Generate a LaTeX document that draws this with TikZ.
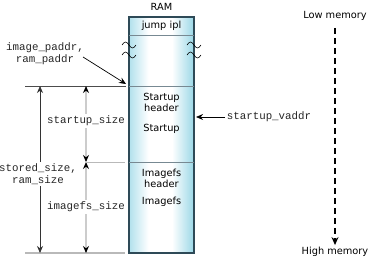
\documentclass[tikz,border=0pt]{standalone}
\usepackage{fontspec}
\setmainfont{DejaVu Sans}
\setmonofont{Liberation Mono}
\usetikzlibrary{arrows.meta,positioning,calc}
\definecolor{ramedge}{HTML}{2E4A57}
\definecolor{ramfill}{HTML}{8FD3E4}
\pgfdeclarehorizontalshading{ramshade}{100bp}{color(0bp)=(ramfill!70); color(25bp)=(ramfill!70); color(40bp)=(white); color(58bp)=(white); color(75bp)=(ramfill!90); color(100bp)=(ramfill!90)}

\begin{document}
\begin{tikzpicture}[x=1pt, y=-1pt,
  lbl/.style={font=\fontsize{9.8}{11}\selectfont, align=center, inner sep=1pt},
  code/.style={font=\ttfamily\fontsize{10.8}{12.5}\selectfont, align=center, inner sep=1.5pt, fill=white, text=black!85},
  ramblock/.style={rectangle, draw=ramedge, line width=1.1pt, shading=ramshade, minimum width=65, minimum height=236, inner sep=0pt},
  sep/.style={draw=ramedge!65, line width=0.6pt},
  brk/.style={black, line width=0.6pt},
  ptr/.style={-{Stealth[length=7pt,width=6pt]}, line width=0.7pt},
  dimblack/.style={{Stealth[length=7pt,width=6pt]}-{Stealth[length=7pt,width=6pt]}, line width=0.8pt, black!80},
  dimgray/.style={{Stealth[black,length=7pt,width=6pt]}-{Stealth[black,length=7pt,width=6pt]}, line width=1.6pt, gray!40},
  memarr/.style={-{Stealth[length=8pt,width=7pt]}, line width=2.2pt, dash pattern=on 6pt off 4pt}
]
  \useasboundingbox (0,0) rectangle (371,258);

  % RAM block
  \node[lbl] (title) at (161.5,7) {RAM};
  \node[ramblock] (ram) at (161.5,135) {};
  \draw[sep] (129,35) -- (194,35);
  \draw[sep] (129,86) -- (194,86);
  \draw[sep] (129,162) -- (194,162);
  \node[lbl] (jump) at (161.5,26) {jump ipl};
  \node[lbl] (suhdr) at (161.5,102.5) {Startup\\header};
  \node[lbl] (su) at (161.5,129) {Startup};
  \node[lbl] (ifhdr) at (161.5,178) {Imagefs\\header};
  \node[lbl] (ifs) at (161.5,202) {Imagefs};

  % break marks
  \foreach \bx in {122,187} {
    \foreach \by in {45,55} {
      \draw[brk] (\bx,\by) sin (\bx+3.5,\by-3) cos (\bx+7,\by) sin (\bx+10.5,\by+3) cos (\bx+14,\by);
    }
  }

  % guide lines
  \coordinate (g1l) at (25,86);  \coordinate (g1r) at (126,86);
  \coordinate (g2l) at (87,162); \coordinate (g2r) at (125,162);
  \coordinate (g3l) at (25,253); \coordinate (g3r) at (125,253);
  \draw[black!70, line width=0.7pt] (g1l) -- (g1r);
  \draw[gray!55, line width=1pt] (g2l) -- (g2r);
  \draw[gray!55, line width=1.8pt] (g3l) -- (g3r);

  % sizes
  \coordinate (stT) at (40,86);  \coordinate (stB) at (40,253);
  \coordinate (suT) at (86,86);  \coordinate (suB) at (86,162);
  \coordinate (ifT) at (86,162); \coordinate (ifB) at (86,253);
  \draw[dimblack] (stT) -- (stB);
  \draw[dimgray] (suT) -- (suB);
  \draw[dimgray] (ifT) -- (ifB);
  \node[code] (stored) at (38,174) {stored\_size,\\ram\_size};
  \node[code] (susize) at (86,121) {startup\_size};
  \node[code] (ifsize) at (86,207) {imagefs\_size};

  % addresses
  \node[code, fill=none] (paddr) at (45,53.5) {image\_paddr,\\ram\_paddr};
  \coordinate (paddrfoot) at (83,57);
  \coordinate (paddrtip) at (126,84);
  \draw[ptr] (paddrfoot) -- (paddrtip);
  \node[code] (vaddr) at (269,117) {startup\_vaddr};
  \draw[ptr, shorten >=1.5pt] (vaddr.west) -- (ram.east |- vaddr.west);

  % memory direction
  \node[lbl] (low) at (335,16) {Low memory};
  \node[lbl] (high) at (335,252) {High memory};
  \draw[memarr, shorten <=6pt, shorten >=1pt] (low.south) -- (high.north);
\end{tikzpicture}
\end{document}
